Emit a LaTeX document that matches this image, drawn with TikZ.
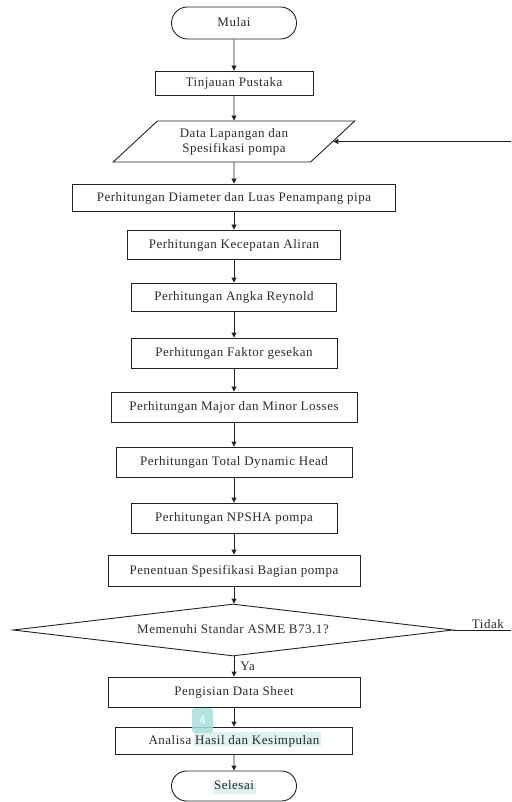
\documentclass[tikz,border=0pt]{standalone}
\usepackage{fontspec}
\setmainfont{Liberation Serif}[LetterSpace=4]
\usetikzlibrary{shapes.geometric,shapes.misc,arrows.meta}
\definecolor{linec}{HTML}{222222}
\definecolor{textc}{HTML}{2A2A2A}
\definecolor{hili}{HTML}{DDF2F0}
\definecolor{badgec}{HTML}{A6DFDB}
\begin{document}
\begin{tikzpicture}[x=1pt,y=-1pt,
  font=\fontsize{13}{15}\selectfont, text=textc,
  base/.style={draw=linec, line width=0.9pt, inner sep=1pt, text depth=0.25ex},
  box/.style={base, rectangle},
  term/.style={base, rounded rectangle},
  io/.style={base, trapezium, trapezium stretches=true, trapezium left angle=40.5, trapezium right angle=139.5},
  decide/.style={base, diamond, shape aspect=8.46, inner sep=0pt},
  arr/.style={draw=linec, line width=0.9pt, -{Triangle[length=5pt,width=5pt]}},
  lbl/.style={inner sep=1pt}]
\useasboundingbox (0,0) rectangle (511,802);
\clip (0,0) rectangle (511,802);
% highlight marks behind text
\fill[hili] (194,732) rectangle (321,746);
\fill[hili] (213,783) rectangle (256,794);
% nodes
\node[term, minimum width=127pt, minimum height=32pt] (mulai) at (234,23) {Mulai};
\node[box, minimum width=158pt, minimum height=24pt] (tinj) at (234,83) {Tinjauan Pustaka};
\node[io, minimum width=242pt, minimum height=41pt, align=center] (para) at (234,141.5) {Data Lapangan dan\\Spesifikasi pompa};
\node[box, minimum width=323pt, minimum height=27pt] (diam) at (234,197.5) {Perhitungan Diameter dan Luas Penampang pipa};
\node[box, minimum width=213pt, minimum height=29pt] (kec) at (234,244.5) {Perhitungan Kecepatan Aliran};
\node[box, minimum width=205pt, minimum height=28pt] (rey) at (234,297) {Perhitungan Angka Reynold};
\node[box, minimum width=206pt, minimum height=30pt] (fak) at (234,353) {Perhitungan Faktor gesekan};
\node[box, minimum width=246pt, minimum height=30pt] (maj) at (234,407) {Perhitungan Major dan Minor Losses};
\node[box, minimum width=236pt, minimum height=30pt] (tdh) at (234,462) {Perhitungan Total Dynamic Head};
\node[box, minimum width=206pt, minimum height=30pt] (npsha) at (234,518) {Perhitungan NPSHA pompa};
\node[box, minimum width=252pt, minimum height=31pt] (pen) at (234,570.5) {Penentuan Spesifikasi Bagian pompa};
\node[decide, minimum width=440pt, minimum height=52pt] (dia) at (233,630) {Memenuhi Standar ASME B73.1?};
\node[box, minimum width=252pt, minimum height=30pt] (peng) at (234,692) {Pengisian Data Sheet};
\node[box, minimum width=237pt, minimum height=27pt] (anal) at (234,740.5) {Analisa Hasil dan Kesimpulan};
\node[term, minimum width=127pt, minimum height=30pt] (sel) at (234,786) {Selesai};
\coordinate (back) at (530,630);
% connectors
\draw[arr] (mulai) -- (tinj);
\draw[arr] (tinj) -- (para);
\draw[arr] (para) -- (diam);
\draw[arr] (diam) -- (kec);
\draw[arr] (kec) -- (rey);
\draw[arr] (rey) -- (fak);
\draw[arr] (fak) -- (maj);
\draw[arr] (maj) -- (tdh);
\draw[arr] (tdh) -- (npsha);
\draw[arr] (npsha) -- (pen);
\draw[arr] (pen.south) -- (pen.south |- dia.north);
\draw[arr] (dia.south -| peng.north) -- node[lbl, right, xshift=5pt]{Ya} (peng.north);
\draw[arr] (dia.east) -- node[lbl, above, pos=0.45]{Tidak} (back) |- (para.east);
\draw[arr] (peng) -- (anal);
\draw[arr] (anal) -- (sel);
% page badge
\node[fill=badgec, fill opacity=0.85, text opacity=1, rounded corners=3pt, minimum width=21pt, minimum height=25pt, inner sep=0pt, text=white, font=\fontsize{13}{15}\sffamily] (badge) at (202.5,720.5) {4};
\end{tikzpicture}
\end{document}
